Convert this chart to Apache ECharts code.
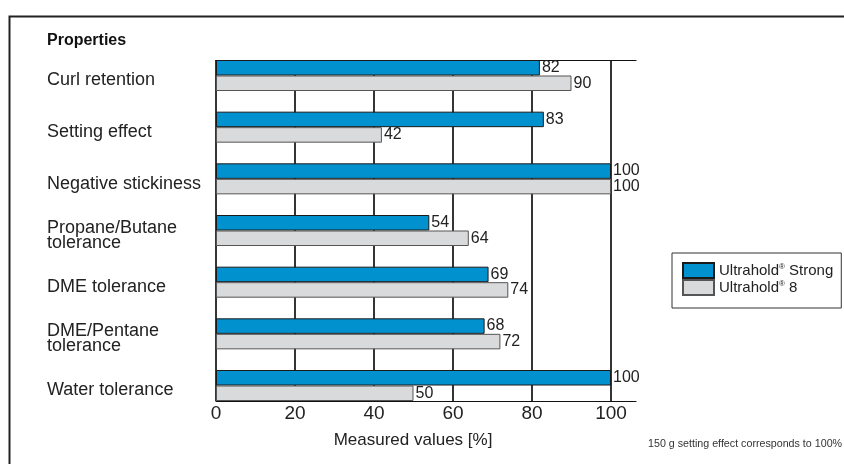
<!DOCTYPE html>
<html>
<head>
<meta charset="utf-8">
<script src="https://cdn.jsdelivr.net/npm/echarts@6/dist/echarts.min.js"></script>
<style>
	html, body { margin: 0; padding: 0; background: #fff; }
	#main { width: 844px; height: 464px; }
</style>
</head>
<body>
<div id="main"></div>
<script>
// data
const categories = [
	"Curl retention",
	"Setting effect",
	"Negative stickiness",
	"Propane/Butane\ntolerance",
	"DME tolerance",
	"DME/Pentane\ntolerance",
	"Water tolerance",
];
const strongValues = [82, 83, 100, 54, 69, 68, 100];
const eightValues = [90, 42, 100, 64, 74, 72, 50];
const xTickLabels = [0, 20, 40, 60, 80, 100];
const seriesNames = ["Ultrahold® Strong", "Ultrahold® 8"];

const FONT = "'Liberation Sans', Arial, Helvetica, sans-serif";
const X_MAX = 106.33; // axis line runs a bit past 100

let myChart = echarts.init(document.getElementById("main"));
let option = {
	backgroundColor: "#fff",
	textStyle: { fontFamily: FONT },
	animation: false,
	title: {
		text: "Properties",
		left: 47,
		top: 33,
		padding: 0,
		textStyle: { fontSize: 16, fontWeight: "bold", color: "#111", fontFamily: FONT },
	},
	legend: {
		orient: "vertical",
		left: 672,
		top: 253,
		padding: [9, 8, 12, 10],
		itemGap: 0,
		itemWidth: 31,
		itemHeight: 15,
		icon: "rect",
		borderColor: "#333",
		borderWidth: 1,
		data: seriesNames,
		formatter: function (name) {
			return name.replace("®", "{sup|®}");
		},
		textStyle: {
			fontSize: 15,
			lineHeight: 15,
			color: "#222",
			fontFamily: FONT,
			rich: {
				sup: { fontSize: 8, lineHeight: 15, verticalAlign: "top", color: "#222" },
			},
		},
	},
	grid: [
		// frame grid: lines, ticks, gridlines
		{ left: 216, top: 60, width: 420, height: 341 },
		// bar grid: taller so bands sit flush with the frame lines
		{ left: 216, top: 49.67, width: 420, height: 361.67 },
	],
	xAxis: [
		{
			gridIndex: 0,
			type: "value",
			position: "bottom",
			min: 0,
			max: X_MAX,
			interval: 20,
			name: "Measured values [%]",
			nameLocation: "middle",
			nameGap: 31,
			nameTextStyle: { fontSize: 17, color: "#222", padding: [0, 26, 0, 0] },
			axisLine: { show: true, lineStyle: { color: "#111", width: 1.2 } },
			axisTick: { show: false },
			axisLabel: {
				margin: 3,
				fontSize: 19,
				color: "#222",
				showMaxLabel: false,
				formatter: function (v) {
					return xTickLabels.indexOf(v) > -1 ? String(v) : "";
				},
			},
			splitLine: {
				show: true,
				showMinLine: true,
				showMaxLine: false,
				lineStyle: { color: "#111", width: 1.7 },
			},
		},
		{
			gridIndex: 0,
			type: "value",
			position: "top",
			min: 0,
			max: X_MAX,
			axisLine: { show: true, lineStyle: { color: "#111", width: 1.2 } },
			axisTick: { show: false },
			axisLabel: { show: false },
			splitLine: { show: false },
		},
		{
			gridIndex: 1,
			type: "value",
			min: 0,
			max: X_MAX,
			show: false,
			splitLine: { show: false },
		},
	],
	yAxis: [
		{
			gridIndex: 0,
			type: "value",
			min: 0,
			max: 1,
			show: false,
			splitLine: { show: false },
		},
		{
			gridIndex: 1,
			type: "category",
			inverse: true,
			data: categories,
			axisLine: { show: false },
			axisTick: { show: false },
			splitLine: { show: false },
			axisLabel: {
				align: "left",
				margin: 169,
				fontSize: 18,
				lineHeight: 15,
				color: "#222",
				// empty spacer line on top pushes the text a little below the band centre
				formatter: function (v) {
					return "{s| }\n" + v;
				},
				rich: {
					s: { fontSize: 1, lineHeight: 10 },
				},
			},
		},
	],
	series: [
		{
			name: seriesNames[0],
			type: "bar",
			xAxisIndex: 2,
			yAxisIndex: 1,
			data: strongValues,
			barGap: "0%",
			barCategoryGap: "40%",
			itemStyle: { color: "#0091CE", borderColor: "#1a1a1a", borderWidth: 1 },
			label: {
				show: true,
				position: "right",
				distance: 2,
				fontSize: 16,
				color: "#222",
				fontFamily: FONT,
			},
		},
		{
			name: seriesNames[1],
			type: "bar",
			xAxisIndex: 2,
			yAxisIndex: 1,
			data: eightValues,
			barGap: "0%",
			barCategoryGap: "40%",
			itemStyle: { color: "#D9DADB", borderColor: "#555", borderWidth: 1 },
			label: {
				show: true,
				position: "right",
				distance: 2,
				fontSize: 16,
				color: "#222",
				fontFamily: FONT,
			},
		},
	],
	graphic: [
		{
			// outer frame, runs off the right and bottom edges
			type: "rect",
			left: 7,
			top: 14,
			shape: { width: 900, height: 500 },
			style: { fill: "none", stroke: "#222", lineWidth: 2 },
			silent: true,
		},
		{
			type: "text",
			left: 648,
			top: 439,
			style: {
				text: "150 g setting effect corresponds to 100%",
				fontSize: 10.7,
				fill: "#333",
				fontFamily: FONT,
			},
		},
	],
};
myChart.setOption(option);
window.addEventListener("resize", function () {
	myChart.resize();
});
</script>
</body>
</html>
